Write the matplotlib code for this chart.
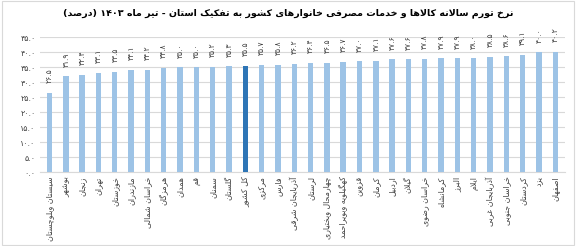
import matplotlib
matplotlib.use("Agg")
import matplotlib.pyplot as plt
from matplotlib.patches import Rectangle

# داده ها - نرخ تورم سالانه به تفکیک استان (تیر ۱۴۰۳)
provinces = [
    "سیستان وبلوچستان", "بوشهر", "زنجان", "تهران", "خوزستان", "مازندران",
    "خراسان شمالی", "هرمزگان", "همدان", "قم", "سمنان", "گلستان", "کل کشور",
    "مرکزی", "فارس", "آذربایجان شرقی", "لرستان", "چهارمحال وبختیاری",
    "کهگیلویه وبویراحمد", "قزوین", "کرمان", "اردبیل", "گیلان", "خراسان رضوی",
    "کرمانشاه", "البرز", "ایلام", "آذربایجان غربی", "خراسان جنوبی", "کردستان",
    "یزد", "اصفهان",
]
inflation = [
    26.5, 31.9, 32.4, 33.1, 33.5, 34.1, 34.2, 34.8, 35.0, 35.0, 35.2, 35.3, 35.5,
    35.7, 35.8, 36.2, 36.4, 36.5, 36.7, 37.0, 37.1, 37.6, 37.6, 37.8,
    37.9, 37.9, 38.0, 38.5, 38.6, 39.1, 40.0, 40.2,
]
y_ticks = [0, 5, 10, 15, 20, 25, 30, 35, 40, 45]
title = "نرخ تورم سالانه کالاها و خدمات مصرفی خانوارهای کشور به تفکیک استان - تیر ماه ۱۴۰۳ (درصد)"

# اشکال حروف: (تنها، پایانی، آغازی، میانی)
FORMS = {
    "ا": (0xFE8D, 0xFE8E), "آ": (0xFE81, 0xFE82), "د": (0xFEA9, 0xFEAA),
    "ذ": (0xFEAB, 0xFEAC), "ر": (0xFEAD, 0xFEAE), "ز": (0xFEAF, 0xFEB0),
    "ژ": (0xFB8A, 0xFB8B), "و": (0xFEED, 0xFEEE),
    "ب": (0xFE8F, 0xFE90, 0xFE91, 0xFE92), "پ": (0xFB56, 0xFB57, 0xFB58, 0xFB59),
    "ت": (0xFE95, 0xFE96, 0xFE97, 0xFE98), "ث": (0xFE99, 0xFE9A, 0xFE9B, 0xFE9C),
    "ج": (0xFE9D, 0xFE9E, 0xFE9F, 0xFEA0), "چ": (0xFB7A, 0xFB7B, 0xFB7C, 0xFB7D),
    "ح": (0xFEA1, 0xFEA2, 0xFEA3, 0xFEA4), "خ": (0xFEA5, 0xFEA6, 0xFEA7, 0xFEA8),
    "س": (0xFEB1, 0xFEB2, 0xFEB3, 0xFEB4), "ش": (0xFEB5, 0xFEB6, 0xFEB7, 0xFEB8),
    "ص": (0xFEB9, 0xFEBA, 0xFEBB, 0xFEBC), "ض": (0xFEBD, 0xFEBE, 0xFEBF, 0xFEC0),
    "ط": (0xFEC1, 0xFEC2, 0xFEC3, 0xFEC4), "ظ": (0xFEC5, 0xFEC6, 0xFEC7, 0xFEC8),
    "ع": (0xFEC9, 0xFECA, 0xFECB, 0xFECC), "غ": (0xFECD, 0xFECE, 0xFECF, 0xFED0),
    "ف": (0xFED1, 0xFED2, 0xFED3, 0xFED4), "ق": (0xFED5, 0xFED6, 0xFED7, 0xFED8),
    "ک": (0xFB8E, 0xFB8F, 0xFB90, 0xFB91), "گ": (0xFB92, 0xFB93, 0xFB94, 0xFB95),
    "ل": (0xFEDD, 0xFEDE, 0xFEDF, 0xFEE0), "م": (0xFEE1, 0xFEE2, 0xFEE3, 0xFEE4),
    "ن": (0xFEE5, 0xFEE6, 0xFEE7, 0xFEE8), "ه": (0xFEE9, 0xFEEA, 0xFEEB, 0xFEEC),
    "ی": (0xFBFC, 0xFBFD, 0xFBFE, 0xFBFF),
}
DIGITS = "۰۱۲۳۴۵۶۷۸۹"


def fa(text):
    # شکل دادن حروف و برگرداندن ترتیب برای نمایش راست به چپ
    out = []
    n = len(text)
    i = 0
    while i < n:
        ch = text[i]
        if ch not in FORMS:
            out.append(ch)
            i += 1
            continue
        prev = text[i - 1] if i > 0 else ""
        join_prev = prev in FORMS and len(FORMS[prev]) == 4
        if ch == "ل" and i + 1 < n and text[i + 1] in "اآ":
            lig = (0xFEFB, 0xFEFC) if text[i + 1] == "ا" else (0xFEF5, 0xFEF6)
            out.append(chr(lig[1] if join_prev else lig[0]))
            i += 2
            continue
        nxt = text[i + 1] if i + 1 < n else ""
        f = FORMS[ch]
        join_next = len(f) == 4 and nxt in FORMS
        if join_prev and join_next:
            out.append(chr(f[3]))
        elif join_prev:
            out.append(chr(f[1]))
        elif join_next:
            out.append(chr(f[2]))
        else:
            out.append(chr(f[0]))
        i += 1
    s = "".join(out)[::-1]
    s = s.translate(str.maketrans("()", ")("))
    # اعداد چپ به راست می مانند
    res, run = "", ""
    for ch in s:
        if ch in DIGITS or (run and ch == "."):
            run += ch
        else:
            res += run[::-1] + ch
            run = ""
    return res + run[::-1]


def fa_num(v):
    return f"{v:.1f}".translate(str.maketrans("0123456789", DIGITS))


plt.rcParams["font.family"] = ["DejaVu Sans"]

fig = plt.figure(figsize=(5.76, 2.46), dpi=100)
ax = fig.add_axes([0.069, 0.30, 0.912, 0.549])

x = list(range(len(provinces)))
colors = ["#2E75B6" if p == "کل کشور" else "#9DC3E6" for p in provinces]
bars = ax.bar(x, inflation, width=0.33, color=colors, zorder=3)

for xi, v in zip(x, inflation):
    ax.text(xi, v + 3.2, fa_num(v), rotation=90, ha="center", va="bottom",
            fontsize=5.5, color="#404040")

ax.set_ylim(0, 45)
ax.set_xlim(-0.6, len(provinces) - 0.4)
ax.set_yticks(y_ticks)
ax.set_yticklabels([fa_num(t) for t in y_ticks], fontsize=5.8, color="#404040")
ax.set_xticks(x)
ax.set_xticklabels([fa(p) for p in provinces], rotation=90, fontsize=5.7,
                   color="#404040", va="top", ha="center")
ax.tick_params(axis="both", length=0, pad=3)
ax.grid(axis="y", color="#D9D9D9", linewidth=0.8, zorder=0)
for s in ["top", "right", "left"]:
    ax.spines[s].set_visible(False)
ax.spines["bottom"].set_color("#D9D9D9")

fig.text(0.5, 0.945, fa(title), ha="center", va="center", fontsize=6.8,
         fontweight="bold", color="#000000")

fig.patches.append(Rectangle((0.004, 0.004), 0.992, 0.992, transform=fig.transFigure,
                             fill=False, edgecolor="#D9D9D9", linewidth=0.8))

fig.savefig("out.png", dpi=100)
